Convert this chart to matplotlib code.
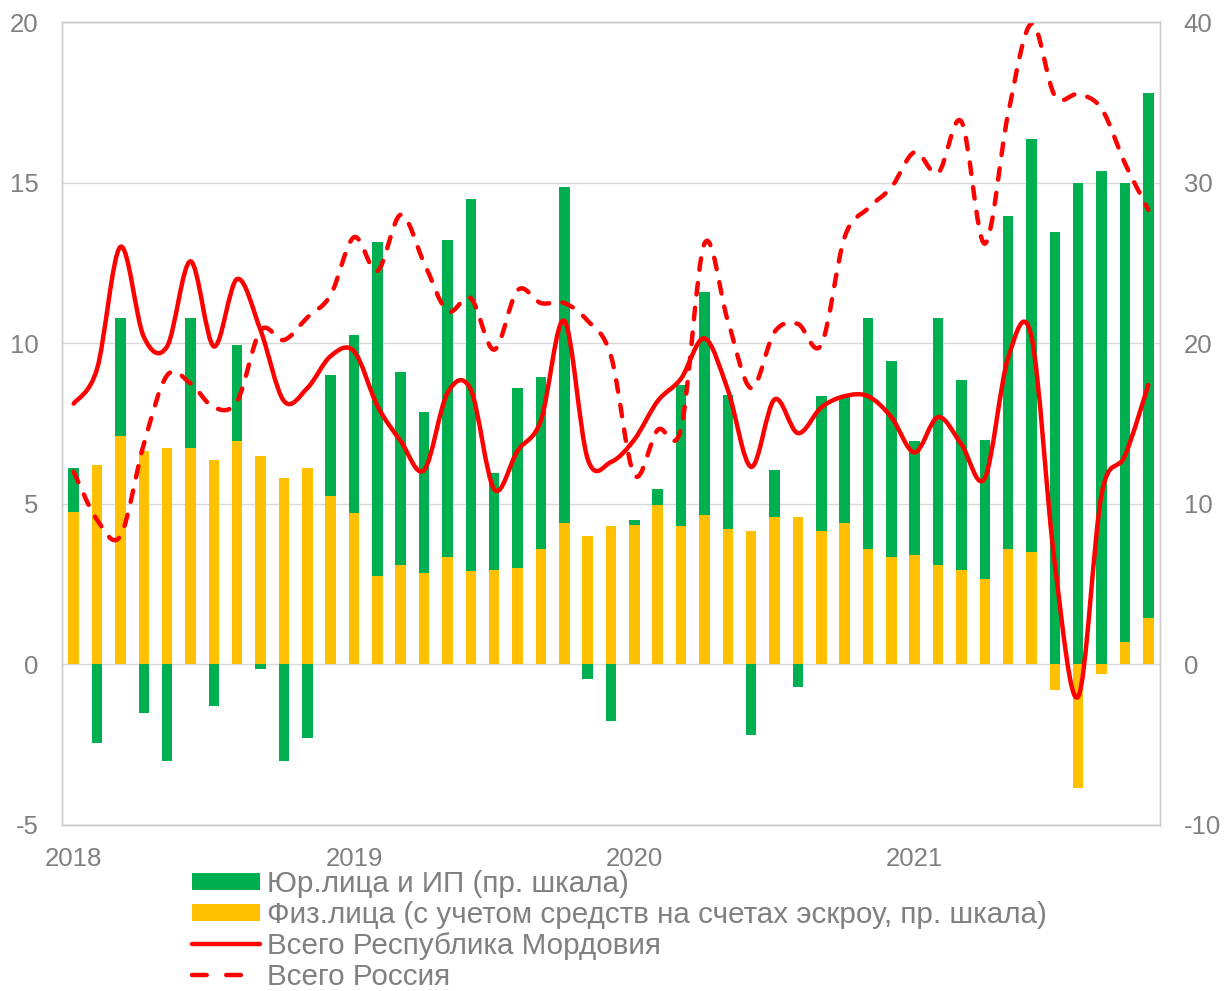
import numpy as np
import matplotlib.pyplot as plt
from matplotlib.path import Path
from matplotlib.patches import PathPatch, Patch
from matplotlib.lines import Line2D

plt.rcParams['font.family'] = ['Liberation Sans', 'DejaVu Sans']
plt.rcParams['axes.unicode_minus'] = False

# Месяцы: январь 2018 — ноябрь 2021
months = np.arange(47)
year_ticks = [0, 12, 24, 36]
year_labels = ['2018', '2019', '2020', '2021']

# Столбики (правая шкала)
corp = [2.7, -4.9, 7.4, -3.0, -6.0, 8.1, -2.6, 6.0, -0.3, -6.0, -4.6, 7.5,
        11.1, 20.8, 12.0, 10.0, 19.7, 23.2, 6.0, 11.2, 10.7, 20.9, -0.9, -3.5,
        0.3, 1.0, 8.8, 13.9, 8.4, -4.4, 2.9, -1.4, 8.4, 7.9, 14.4, 12.2,
        7.1, 15.4, 11.8, 8.7, 20.7, 25.7, 26.9, 30.0, 30.7, 28.6, 32.7]
indiv = [9.5, 12.4, 14.2, 13.3, 13.5, 13.5, 12.7, 13.9, 13.0, 11.6, 12.2, 10.5,
         9.4, 5.5, 6.2, 5.7, 6.7, 5.8, 5.9, 6.0, 7.2, 8.8, 8.0, 8.6,
         8.7, 9.9, 8.6, 9.3, 8.4, 8.3, 9.2, 9.2, 8.3, 8.8, 7.2, 6.7,
         6.8, 6.2, 5.9, 5.3, 7.2, 7.0, -1.6, -7.7, -0.6, 1.4, 2.9]

# Линии (левая шкала)
mordovia = [8.12, 9.2, 13.0, 10.2, 9.9, 12.55, 9.9, 12.0, 10.4, 8.2, 8.6, 9.6,
            9.75, 8.05, 6.95, 6.05, 8.45, 8.55, 5.45, 6.65, 7.6, 10.7, 6.4, 6.3,
            7.0, 8.2, 8.9, 10.15, 8.55, 6.15, 8.25, 7.2, 8.0, 8.35, 8.35, 7.7,
            6.6, 7.7, 6.85, 5.8, 9.55, 10.2, 3.1, -1.0, 5.3, 6.5, 8.7]
russia = [6.0, 4.5, 4.0, 6.85, 9.0, 8.75, 8.0, 8.2, 10.4, 10.1, 10.8, 11.5,
          13.3, 12.25, 14.0, 12.5, 11.0, 11.4, 9.8, 11.65, 11.25, 11.25, 10.7, 9.6,
          5.9, 7.3, 7.35, 13.1, 10.7, 8.6, 10.35, 10.6, 9.95, 13.3, 14.2, 14.85,
          15.95, 15.3, 16.9, 13.1, 17.15, 19.95, 17.7, 17.75, 17.3, 15.6, 14.15]

GREEN = '#00b050'
YELLOW = '#ffc000'
RED = '#ff0000'
TXT = '#808080'
GRID = '#d9d9d9'


def smooth_path(x, y):
    # сглаживание как в Excel (кривые Безье через точки)
    n = len(x)
    verts = [(x[0], y[0])]
    codes = [Path.MOVETO]
    for i in range(n - 1):
        a = max(i - 1, 0)
        b = min(i + 2, n - 1)
        c1 = (x[i] + (x[i + 1] - x[a]) / 6, y[i] + (y[i + 1] - y[a]) / 6)
        c2 = (x[i + 1] - (x[b] - x[i]) / 6, y[i + 1] - (y[b] - y[i]) / 6)
        verts += [c1, c2, (x[i + 1], y[i + 1])]
        codes += [Path.CURVE4] * 3
    return Path(verts, codes)


fig = plt.figure(figsize=(12.27, 9.91), dpi=100)
ax = fig.add_axes([62 / 1227, 166 / 991, 1098 / 1227, 803 / 991])
ax2 = ax.twinx()

# столбики на правой шкале
corp_a = np.array(corp)
indiv_a = np.array(indiv)
bottom = np.where((corp_a > 0) & (indiv_a > 0), indiv_a, 0)
w = 0.45
ax2.bar(months, indiv_a, width=w, color=YELLOW, zorder=2)
ax2.bar(months, corp_a, width=w, bottom=bottom, color=GREEN, zorder=2)
ax2.set_ylim(-10, 40)
ax2.set_yticks(np.arange(-10, 41, 10))
ax2.grid(True, axis='y', color=GRID, lw=1, zorder=0)
ax2.set_xticks([11.5, 23.5, 35.5], minor=True)
ax2.grid(True, axis='x', which='minor', color=GRID, lw=1, zorder=0)
ax2.set_axisbelow(True)

# линии на левой шкале поверх столбиков
ax.set_zorder(ax2.get_zorder() + 1)
ax.patch.set_visible(False)
ax.add_patch(PathPatch(smooth_path(months, mordovia), fill=False,
                       edgecolor=RED, lw=3.2, capstyle='round', joinstyle='round'))
ax.add_patch(PathPatch(smooth_path(months, russia), fill=False,
                       edgecolor=RED, lw=3.2, linestyle=(0, (2.6, 3.0)),
                       capstyle='round', joinstyle='round'))
ax.set_ylim(-5, 20)
ax.set_yticks(np.arange(-5, 21, 5))
ax.set_xlim(-0.5, 46.5)
ax.set_xticks(year_ticks)
ax.set_xticklabels(year_labels)

for a in (ax, ax2):
    for s in a.spines.values():
        s.set_color('#cccccc')
        s.set_linewidth(1)
    a.tick_params(axis='both', which='both', length=0, colors=TXT, labelsize=18.5)
ax.tick_params(axis='y', pad=17)
ax2.tick_params(axis='y', pad=17)
ax.tick_params(axis='x', pad=16)

handles = [
    Patch(facecolor=GREEN, edgecolor='none'),
    Patch(facecolor=YELLOW, edgecolor='none'),
    Line2D([], [], color=RED, lw=3.2, solid_capstyle='round'),
    Line2D([], [], color=RED, lw=3.2, linestyle=(0, (3.3, 4.4)), dash_capstyle='round'),
]
labels = ['Юр.лица и ИП (пр. шкала)',
          'Физ.лица (с учетом средств на счетах эскроу, пр. шкала)',
          'Всего Республика Мордовия',
          'Всего Россия']
leg = fig.legend(handles, labels, loc='upper left', bbox_to_anchor=(192 / 1227, 1 - 870 / 991),
                 frameon=False, fontsize=21.3, handlelength=2.3, handleheight=0.5,
                 handletextpad=0.25, labelspacing=0.1, borderpad=0, borderaxespad=0)
for t in leg.get_texts():
    t.set_color(TXT)

fig.savefig('out.png', dpi=100)
